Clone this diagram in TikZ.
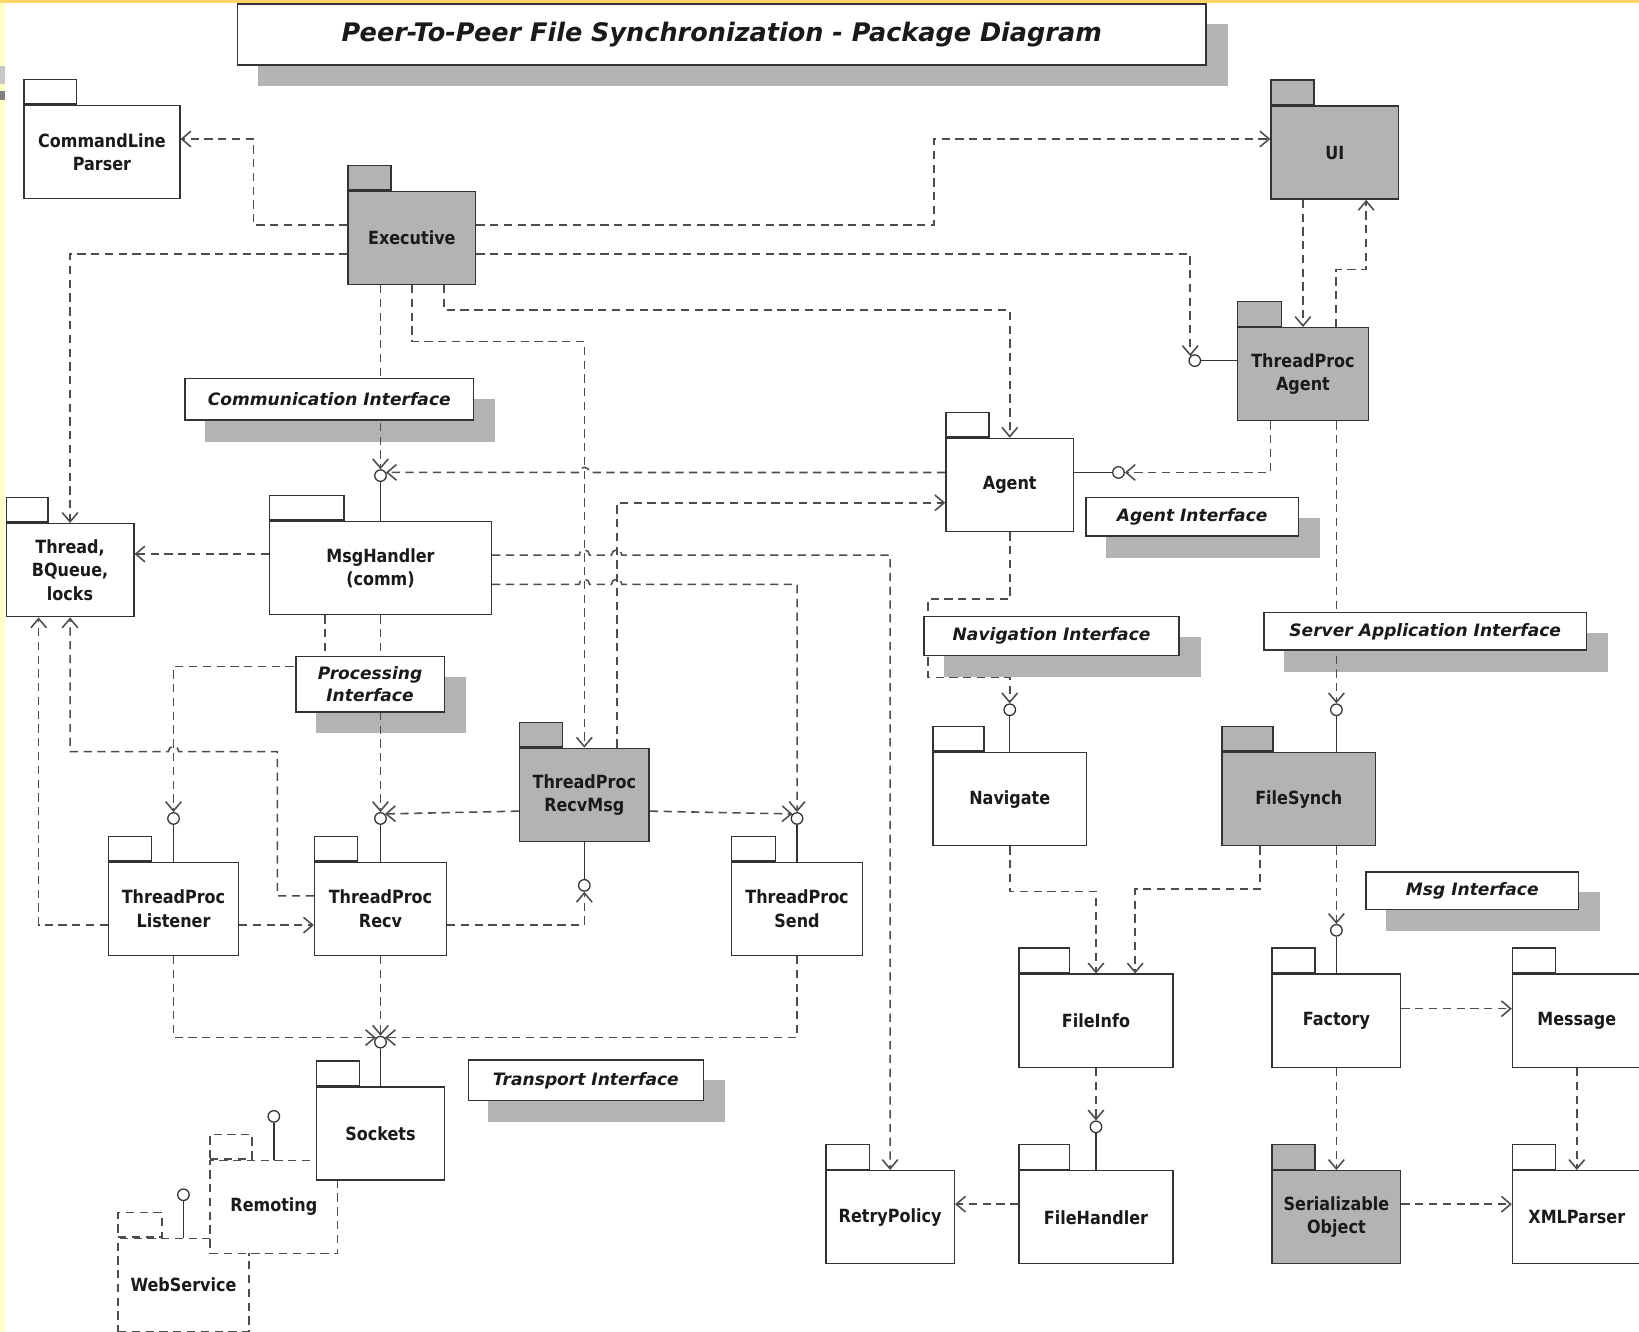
\documentclass[tikz,border=0pt]{standalone}
\usepackage{fontspec}
\setmainfont{DejaVu Sans}
\newfontfamily\pkgfont{DejaVu Sans}[FakeStretch=0.88]
\usetikzlibrary{arrows.meta,calc,positioning}

\definecolor{boxc}{HTML}{333333}
\definecolor{linec}{HTML}{4D4D4D}
\definecolor{txtc}{HTML}{1A1A1A}
\definecolor{pkgfill}{HTML}{B3B3B3}
\definecolor{shadowc}{HTML}{B3B3B3}
\definecolor{edgey}{HTML}{FFFFC8}
\definecolor{topy}{HTML}{FFD466}

\pgfdeclarelayer{shadowlayer}
\pgfdeclarelayer{linelayer}
\pgfsetlayers{shadowlayer,linelayer,main}

\begin{document}
\begin{tikzpicture}[x=0.02cm, y=-0.02cm, >={Straight Barb[length=5pt,width=8.5pt]},
    pkg/.style={draw=boxc, line width=0.8pt, fill=white, text=txtc, minimum width=#1,
        minimum height=1.78cm, inner sep=0pt, align=center,
        font=\pkgfont\bfseries\fontsize{9.9pt}{12.8pt}\selectfont},
    pkg/.default=2.44cm,
    gpkg/.style={pkg=#1, fill=pkgfill},
    gpkg/.default=2.44cm,
    tab/.style={draw=boxc, line width=0.8pt, fill=white, anchor=south west,
        minimum width=#1, minimum height=0.47cm, inner sep=0pt},
    tab/.default=0.82cm,
    gtab/.style={tab=#1, fill=pkgfill},
    gtab/.default=0.82cm,
    dashpkg/.style={draw=linec, dash pattern=on 4.5pt off 3pt},
    note/.style={draw=boxc, line width=0.8pt, fill=white, text=txtc, inner sep=0pt,
        align=center, font=\bfseries\itshape\fontsize{9.3pt}{11.6pt}\selectfont},
    iface/.style={circle, draw=boxc, line width=0.7pt, fill=white, inner sep=0pt,
        minimum size=0.22cm},
    dep/.style={draw=linec, line width=0.85pt, dash pattern=on 4.5pt off 3pt, ->},
    stem/.style={draw=boxc, line width=0.8pt}]

    \useasboundingbox (0,0) rectangle (1568,1274);

    % Title
    \node[note, minimum width=18.54cm, minimum height=1.16cm,
        font=\bfseries\itshape\fontsize{13.9pt}{16pt}\selectfont] (title) at (690.5,33)
        {Peer-To-Peer File Synchronization - Package Diagram};

    % Packages, upper part
    \node[pkg=2.98cm, label={[tab=1.0cm]north west:}] (cl) at (97.5,145.5) {CommandLine\\Parser};
    \node[gpkg, label={[gtab]north west:}] (exec) at (394,227.5) {Executive};
    \node[gpkg, label={[gtab]north west:}] (ui) at (1277,146) {UI};
    \node[gpkg=2.5cm, label={[gtab=0.84cm]north west:}] (tpagent) at (1246.5,358) {ThreadProc\\Agent};
    \node[pkg, label={[tab]north west:}] (agent) at (966,464) {Agent};
    \node[pkg, label={[tab=0.8cm]north west:}] (thr) at (67,545.5) {Thread,\\BQueue,\\locks};
    \node[pkg=4.24cm, label={[tab=1.42cm]north west:}] (msgh) at (364,543.5) {MsgHandler\\(comm)};

    % Communication threads
    \node[gpkg=2.48cm, label={[gtab]north west:}] (rmsg) at (559,760.5) {ThreadProc\\RecvMsg};
    \node[pkg=2.48cm, label={[tab]north west:}] (lst) at (166,869.5) {ThreadProc\\Listener};
    \node[pkg=2.52cm, label={[tab]north west:}] (recv) at (364,869.5) {ThreadProc\\Recv};
    \node[pkg=2.5cm, label={[tab=0.84cm]north west:}] (send) at (762.5,869.5) {ThreadProc\\Send};

    % Transport
    \node[pkg=2.5cm, dashpkg, label={[tab=0.84cm, dashpkg]north west:}] (websvc) at (175.5,1229.5) {WebService};
    \node[pkg, dashpkg, label={[tab=0.8cm, dashpkg]north west:}] (remot) at (262,1154.5) {Remoting};
    \node[pkg, label={[tab]north west:}] (sock) at (364,1084.5) {Sockets};

    % Packages, right part
    \node[pkg=2.94cm, label={[tab=0.98cm]north west:}] (nav) at (966,764.5) {Navigate};
    \node[gpkg=2.94cm, label={[gtab=0.98cm]north west:}] (fsync) at (1242.5,764.5) {FileSynch};
    \node[pkg=2.94cm, label={[tab=0.96cm]north west:}] (finfo) at (1048.5,976.5) {FileInfo};
    \node[pkg=2.46cm, label={[tab]north west:}] (fact) at (1278.5,976.5) {Factory};
    \node[pkg=2.46cm, label={[tab]north west:}] (msg) at (1508.5,976.5) {Message};
    \node[pkg=2.46cm, label={[tab=0.84cm]north west:}] (retry) at (851.5,1164.5) {RetryPolicy};
    \node[pkg=2.94cm, label={[tab=0.96cm]north west:}] (fhand) at (1048.5,1164.5) {FileHandler};
    \node[gpkg=2.46cm, label={[gtab]north west:}] (ser) at (1278.5,1164.5) {Serializable\\Object};
    \node[pkg=2.46cm, label={[tab]north west:}] (xml) at (1508.5,1164.5) {XMLParser};

    % Interface notes
    \node[note, minimum width=5.52cm, minimum height=0.8cm] (commI) at (315,382) {Communication Interface};
    \node[note, minimum width=4.06cm, minimum height=0.74cm] (agentI) at (1140.5,494.5) {Agent Interface};
    \node[note, minimum width=2.84cm, minimum height=1.06cm] (procI) at (354,654.5) {Processing\\Interface};
    \node[note, minimum width=4.88cm, minimum height=0.74cm] (navI) at (1006,608.5) {Navigation Interface};
    \node[note, minimum width=6.18cm, minimum height=0.72cm] (srvI) at (1363.5,604) {Server Application Interface};
    \node[note, minimum width=4.06cm, minimum height=0.72cm] (msgI) at (1408.5,852) {Msg Interface};
    \node[note, minimum width=4.5cm, minimum height=0.78cm] (trI) at (560.5,1033.5) {Transport Interface};

    % Provided interfaces (lollipops)
    \node[iface] (ifMsg) at (364,455) {};
    \node[iface] (ifTPA) at (1143,345) {};
    \node[iface] (ifAgent) at (1070,452) {};
    \node[iface] (ifFS) at (1278.5,679) {};
    \node[iface] (ifNav) at (966,679) {};
    \node[iface] (ifLst) at (166,783) {};
    \node[iface] (ifRecv) at (364,783) {};
    \node[iface] (ifSend) at (762.5,783) {};
    \node[iface] (ifRMsg) at (559,847) {};
    \node[iface] (ifSock) at (364,997) {};
    \node[iface] (ifFact) at (1278.5,890) {};
    \node[iface] (ifFH) at (1048.5,1078) {};
    \node[iface] (ifRem) at (262,1068) {};
    \node[iface] (ifWeb) at (175.5,1143) {};

    % Background, page edge and shadows
    \begin{pgfonlayer}{shadowlayer}
        \fill[white] (0,0) rectangle (1568,1274);
        \fill[edgey] (0,0) rectangle (5,1274);
        \fill[topy] (0,0) rectangle (1568,3);
        \fill[black!22] (0,63) rectangle (5,80);
        \fill[black!50] (0,87) rectangle (5,96);
        \foreach \n in {title,commI,agentI,procI,navI,srvI,msgI,trI}
            \fill[shadowc] ($(\n.south west)+(20,20)$) rectangle ($(\n.north east)+(20,20)$);
    \end{pgfonlayer}

    \begin{pgfonlayer}{linelayer}
        % Executive
        \draw[dep] ($(exec.west)+(0,-12.5)$) -- ++(-90,0) |- ($(cl.east)+(0,-12.5)$);
        \draw[dep] ($(exec.east)+(0,-12.5)$) -- ++(438,0) |- ($(ui.west)+(0,-13)$);
        \draw[dep] ($(exec.east)+(0,15.5)$) -| (ifTPA.135);
        \draw[dep] ($(exec.west)+(0,15.5)$) -| (thr.north);
        \draw[dep] (exec.south -| ifMsg) -- (ifMsg.north);
        \draw[dep] (exec.south) -- ++(0,54) -| (rmsg.north);
        \draw[dep] ($(exec.south)+(31,0)$) -- ++(0,24) -| (agent.north);

        % Agent and UI
        \draw[dep] ($(agent.west)+(0,-12)$) -- (564,452)
            arc[start angle=0, end angle=180, radius=0.1cm] -- (ifMsg.30);
        \draw[dep] ($(rmsg.north)+(31,0)$) |- ($(agent.west)+(0,17)$);
        \draw[dep] ($(tpagent.south)+(-31,0)$) |- (ifAgent.east);
        \draw[stem] ($(agent.east)+(0,-12)$) -- (ifAgent.west);
        \draw[stem] (ifTPA.east) -- (ifTPA -| tpagent.west);
        \draw[dep] (ui.south -| tpagent.north) -- (tpagent.north);
        \draw[dep] ($(tpagent.north)+(31.5,0)$) -- ++(0,-55) -| ($(ui.south)+(30,0)$);
        \draw[dep] ($(tpagent.south)+(32,0)$) -- (ifFS.north);
        \draw[stem] (ifFS.south) -- (ifFS |- fsync.north);

        % MsgHandler
        \draw[stem] (ifMsg.south) -- (msgh.north);
        \draw[dep] ($(msgh.west)+(0,-13.5)$) -- ($(thr.east)+(0,-15.5)$);
        \draw[dep] ($(msgh.east)+(0,-12.5)$) -- (554,531)
            arc[start angle=180, end angle=0, radius=0.1cm] -- (585,531)
            arc[start angle=180, end angle=0, radius=0.1cm] -| (retry.north);
        \draw[dep] ($(msgh.east)+(0,15.5)$) -- (554,559)
            arc[start angle=180, end angle=0, radius=0.1cm] -- (585,559)
            arc[start angle=180, end angle=0, radius=0.1cm] -| (ifSend.north);
        \draw[dep] ($(msgh.south)+(-53,0)$) -- ++(0,49) -| (ifLst.north);
        \draw[dep] (msgh.south) -- (ifRecv.north);

        % Threads
        \draw[dep] ($(lst.west)+(0,15.5)$) -| ($(thr.south)+(-30,0)$);
        \draw[dep] ($(recv.west)+(0,-12.5)$) -- ++(-35,0) -- ++(0,-138) -- (171,719)
            arc[start angle=0, end angle=180, radius=0.1cm] -| (thr.south);
        \draw[dep] ($(lst.east)+(0,15.5)$) -- ($(recv.west)+(0,15.5)$);
        \draw[dep] ($(recv.east)+(0,15.5)$) -| (ifRMsg.south);
        \draw[dep] ($(rmsg.west)+(0,15.5)$) -- (ifRecv.north east);
        \draw[dep] ($(rmsg.east)+(0,15.5)$) -- (ifSend.north west);
        \draw[stem] (rmsg.south) -- (ifRMsg.north);
        \draw[stem] (ifLst.south) -- (lst.north);
        \draw[stem] (ifRecv.south) -- (recv.north);
        \draw[stem] (ifSend.south) -- (send.north);

        % Transport
        \draw[dep] (lst.south) |- (ifSock.north west);
        \draw[dep] (send.south) |- (ifSock.north east);
        \draw[dep] (recv.south) -- (ifSock.north);
        \draw[stem] (ifSock.south) -- (sock.north);
        \draw[stem] (ifRem.south) -- (remot.north);
        \draw[stem] (ifWeb.south) -- (websvc.north);

        % Navigation and file synch
        \draw[dep] (agent.south) -- ++(0,64) -- ++(-78,0) -- ++(0,75) -| (ifNav.north);
        \draw[stem] (ifNav.south) -- (nav.north);
        \draw[dep] (nav.south) -- ++(0,43) -| (finfo.north);
        \draw[dep] ($(fsync.south)+(-37,0)$) -- ++(0,41) -| ($(finfo.north)+(37.5,0)$);
        \draw[dep] ($(fsync.south)+(36,0)$) -- (ifFact.north);
        \draw[stem] (ifFact.south) -- (fact.north);
        \draw[dep] ($(fact.east)+(0,-11.5)$) -- ($(msg.west)+(0,-11.5)$);
        \draw[dep] (fact.south) -- (ser.north);
        \draw[dep] (msg.south) -- (xml.north);
        \draw[dep] ($(ser.east)+(0,-12.5)$) -- ($(xml.west)+(0,-12.5)$);
        \draw[dep] ($(fhand.west)+(0,-12.5)$) -- ($(retry.east)+(0,-12.5)$);
        \draw[dep] (finfo.south) -- (ifFH.north);
        \draw[stem] (ifFH.south) -- (fhand.north);
    \end{pgfonlayer}

\end{tikzpicture}
\end{document}
